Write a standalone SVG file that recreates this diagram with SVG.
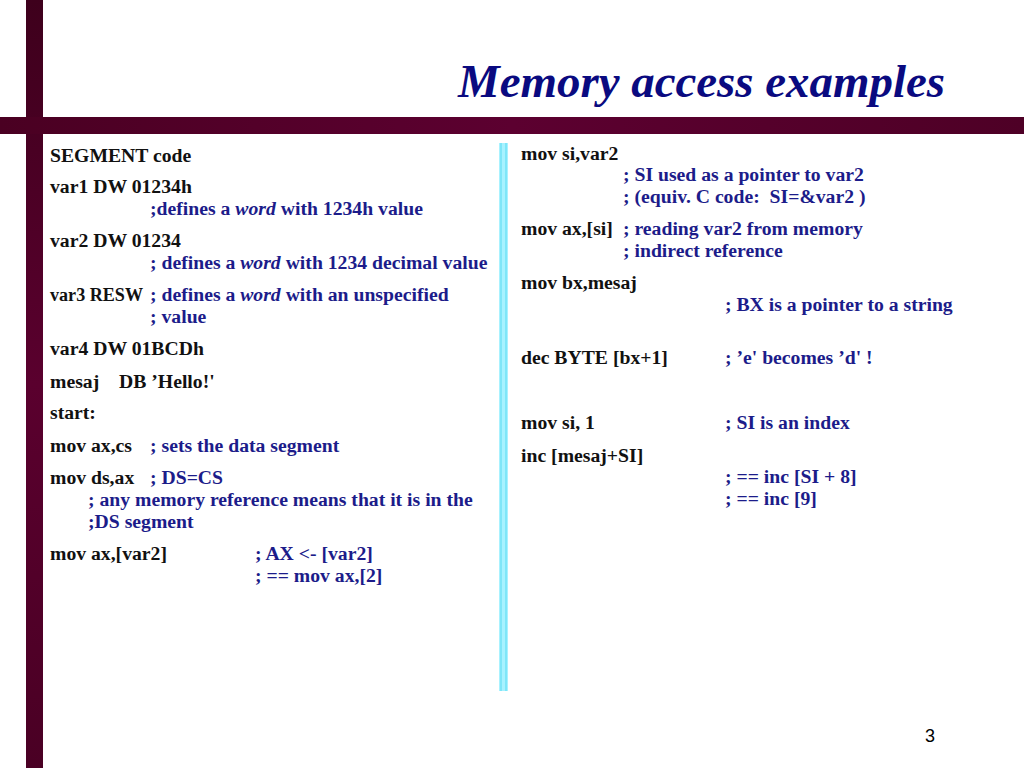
<svg xmlns="http://www.w3.org/2000/svg" width="1024" height="768" viewBox="0 0 1024 768">
<defs>
<linearGradient id="hbar" x1="0" y1="0" x2="1" y2="0">
<stop offset="0" stop-color="#4a0022"/>
<stop offset="0.5" stop-color="#5c0030"/>
<stop offset="1" stop-color="#4e0026"/>
</linearGradient>
<linearGradient id="vbar" x1="0" y1="0" x2="0" y2="1">
<stop offset="0" stop-color="#3e001c"/>
<stop offset="0.5" stop-color="#5a002e"/>
<stop offset="1" stop-color="#4a0024"/>
</linearGradient>
</defs>
<style>
.t{font-family:"Liberation Serif","Times New Roman",serif;font-size:19.7px;font-weight:bold;fill:#111;white-space:pre}
.c{fill:#1c1c8a}
.i{font-style:italic}
.title{font-family:"Liberation Serif","Times New Roman",serif;font-size:46px;font-weight:bold;font-style:italic;fill:#0a0a80}
.pg{font-family:"Liberation Sans",Arial,sans-serif;font-size:18px;fill:#000}
</style>
<rect width="1024" height="768" fill="#fff"/>
<g id="frame">
<rect x="26" y="0" width="17" height="768" fill="url(#vbar)"/>
<rect x="0" y="117" width="1024" height="17" fill="url(#hbar)"/>
<rect x="499" y="143" width="9" height="548" fill="#a8f2ff"/>
<rect x="500" y="143" width="2" height="548" fill="#7fe6f8"/>
<rect x="505" y="143" width="2" height="548" fill="#7fe6f8"/>
</g>
<g id="title">
<text class="title" x="458" y="97" textLength="487" lengthAdjust="spacingAndGlyphs">Memory access examples</text>
</g>
<g id="left">
<text class="t" x="50" y="162">SEGMENT code</text>
<text class="t" x="50" y="193">var1 DW 01234h</text>
<text class="t c" x="150" y="215">;defines a <tspan class="i">word</tspan> with 1234h value</text>
<text class="t" x="50" y="247">var2 DW 01234</text>
<text class="t c" x="150" y="269">; defines a <tspan class="i">word</tspan> with 1234 decimal value</text>
<text class="t" x="50" y="301" textLength="93" lengthAdjust="spacingAndGlyphs">var3 RESW</text>
<text class="t c" x="150" y="301">; defines a <tspan class="i">word</tspan> with an unspecified</text>
<text class="t c" x="150" y="323">; value</text>
<text class="t" x="50" y="355">var4 DW 01BCDh</text>
<text class="t" x="50" y="388">mesaj</text>
<text class="t" x="119" y="388">DB ’Hello!'</text>
<text class="t" x="50" y="419">start:</text>
<text class="t" x="50" y="452">mov ax,cs</text>
<text class="t c" x="150" y="452">; sets the data segment</text>
<text class="t" x="50" y="484">mov ds,ax</text>
<text class="t c" x="150" y="484">; DS=CS</text>
<text class="t c" x="88" y="506">; any memory reference means that it is in the</text>
<text class="t c" x="88" y="528">;DS segment</text>
<text class="t" x="50" y="560">mov ax,[var2]</text>
<text class="t c" x="255" y="560">; AX &lt;- [var2]</text>
<text class="t c" x="255" y="582">; == mov ax,[2]</text>
</g>
<g id="right">
<text class="t" x="521" y="160">mov si,var2</text>
<text class="t c" x="623" y="181">; SI used as a pointer to var2</text>
<text class="t c" x="623" y="203">; (equiv. C code:  SI=&amp;var2 )</text>
<text class="t" x="521" y="235">mov ax,[si]</text>
<text class="t c" x="623" y="235">; reading var2 from memory</text>
<text class="t c" x="623" y="257">; indirect reference</text>
<text class="t" x="521" y="289">mov bx,mesaj</text>
<text class="t c" x="725" y="311">; BX is a pointer to a string</text>
<text class="t" x="521" y="364">dec BYTE [bx+1]</text>
<text class="t c" x="725" y="364">; ’e' becomes ’d' !</text>
<text class="t" x="521" y="429">mov si, 1</text>
<text class="t c" x="725" y="429">; SI is an index</text>
<text class="t" x="521" y="462">inc [mesaj+SI]</text>
<text class="t c" x="725" y="483">; == inc [SI + 8]</text>
<text class="t c" x="725" y="505">; == inc [9]</text>
</g>
<g id="page">
<text class="pg" x="925" y="742">3</text>
</g>
</svg>
